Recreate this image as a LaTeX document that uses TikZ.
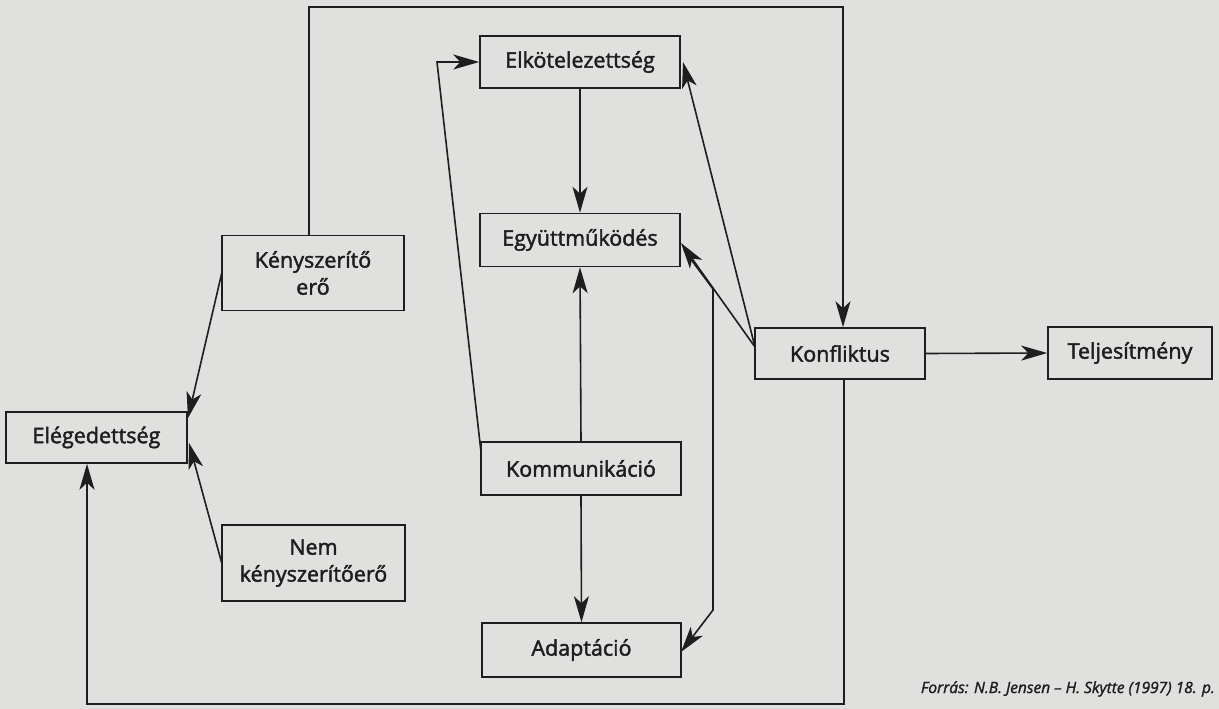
\documentclass[tikz,border=0pt]{standalone}
\usepackage{fontspec}
\setmainfont{Open Sans}[UprightFeatures={FakeBold=2},ItalicFeatures={FakeBold=1.5}]
\usetikzlibrary{arrows.meta}
\definecolor{bg}{RGB}{224,224,222}
\definecolor{ink}{RGB}{30,30,30}
\begin{document}
\begin{tikzpicture}[x=1pt,y=-1pt,
  box/.style={draw=ink,line width=1.6pt,minimum width=#1,inner sep=0pt,align=center,font=\fontsize{21.5}{27}\selectfont,text=ink},
  conn/.style={draw=ink,line width=1.6pt},
  arr/.style={conn,-{Stealth[length=26pt,width=15pt,inset=7pt]}}]
\fill[bg] (0,0) rectangle (1219,709);
\useasboundingbox (0,0) rectangle (1219,709);
\node[box=200pt,minimum height=52pt] (elk) at (580,62) {Elkötelezettség};
\node[box=200pt,minimum height=53pt] (egy) at (580,240) {Együttműködés};
\node[box=182pt,minimum height=75pt] (kef) at (313,273) {Kényszerítő\\erő};
\node[box=181pt,minimum height=51pt] (ele) at (96.5,437.5) {Elégedettség};
\node[box=183pt,minimum height=76pt] (nem) at (313.5,563) {Nem\\kényszerítőerő};
\node[box=200pt,minimum height=53pt] (kom) at (581,468.5) {Kommunikáció};
\node[box=199pt,minimum height=54pt] (ada) at (581.5,650) {Adaptáció};
\node[box=170pt,minimum height=51pt] (kon) at (840,353.5) {Konfliktus};
\node[box=164pt,minimum height=52pt] (tel) at (1130,353) {Teljesítmény};
\node[anchor=base east,font=\fontsize{15.5}{19}\selectfont\itshape,text=ink,inner sep=0pt] (src) at (1215,693) {Forrás: N.B. Jensen – H. Skytte (1997) 18. p.};
% top loop
\coordinate (t1) at (309,7);
\coordinate (t2) at (843,7);
\draw[arr] (kef.north -| t1) -- (t1) -- (t2) -- (kon.north -| t2);
% bottom loop
\coordinate (b1) at (844,704);
\coordinate (b2) at (87,704);
\draw[arr] (kon.south -| b1) -- (b1) -- (b2) -- (ele.south -| b2);
% to Elégedettség
\draw[arr] (222,272) -- (188,418);
\draw[arr] (222,564) -- (189,443);
% vertical chain
\draw[arr] (elk.south) -- (egy.north);
\draw[arr] (kom.north) -- (egy.south);
\draw[arr] (kom.south) -- (ada.north);
% Kommunikáció to Elkötelezettség
\coordinate (k1) at (437,62);
\draw[arr] (481,452) -- (k1) -- (elk.west);
% Konfliktus to Elkötelezettség and Együttműködés
\draw[arr] (755,347) -- (683,62);
\draw[arr] (755,347) -- (681,243);
% Együttműködés to Adaptáció
\coordinate (a1) at (713,289);
\coordinate (a2) at (713,610);
\draw[arr] (684,250) -- (a1) -- (a2) -- (681,652);
% Konfliktus to Teljesítmény
\draw[arr] (kon.east) -- (tel.west);
\end{tikzpicture}
\end{document}
